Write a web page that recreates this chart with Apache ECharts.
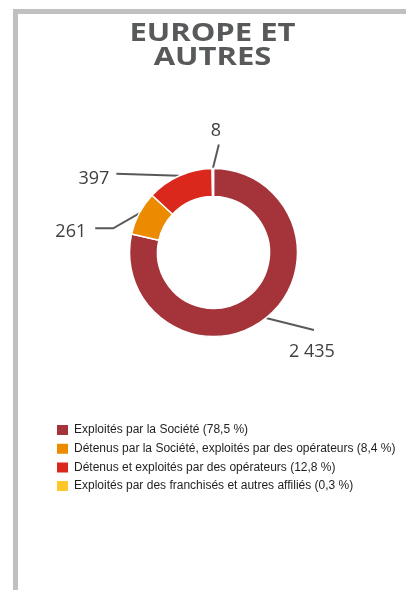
<!DOCTYPE html>
<html>
<head>
<meta charset="utf-8">
<script src="https://cdn.jsdelivr.net/npm/echarts@6/dist/echarts.min.js"></script>
<style>
  html, body { margin: 0; padding: 0; background: #fff; }
  #frame {
    position: absolute; left: 13px; top: 9px; right: 0; bottom: 0;
    border-top: 5px solid #c0c0c0; border-left: 5px solid #c0c0c0;
  }
  #main { position: absolute; left: 0; top: 0; width: 406px; height: 590px; }
</style>
</head>
<body>
<div id="frame"></div>
<div id="main"></div>
<script>
// données
const categories = [
  'Exploités par la Société (78,5 %)',
  'Détenus par la Société, exploités par des opérateurs (8,4 %)',
  'Détenus et exploités par des opérateurs (12,8 %)',
  'Exploités par des franchisés et autres affiliés (0,3 %)'
];
const values = [2435, 261, 397, 8];
const colors = ['#a4343a', '#ed8b00', '#da291c', '#ffc72c'];

// format "2 435"
const fmt = v => String(v).replace(/\B(?=(\d{3})+(?!\d))/g, ' ');

// tracé des lignes de rappel, relatif au point d'ancrage du secteur
const leaders = [
  { line: [[48, 12]], text: [46, 34], align: 'center' },
  { line: [[-26, 15], [-44, 15]], text: [-53, 19], align: 'right' },
  { line: [[-63, -2]], text: [-70, 3], align: 'right' },
  { line: [[6, -24]], text: [3, -38], align: 'center' }
];

const chart = echarts.init(document.getElementById('main'));
chart.setOption({
  animation: false,
  // titre étiré horizontalement comme dans l'original
  graphic: [
    {
      type: 'text',
      x: 212.5,
      y: 22,
      scaleX: 1.24,
      style: {
        text: 'EUROPE ET\nAUTRES',
        font: 'bold 25px "Open Sans"',
        lineHeight: 24,
        align: 'center',
        verticalAlign: 'top',
        fill: '#58595b'
      }
    }
  ],
  legend: {
    orient: 'vertical',
    left: 55,
    top: 423,
    padding: 0,
    itemWidth: 13,
    itemHeight: 12,
    itemGap: 4.7,
    icon: 'rect',
    data: categories,
    textStyle: {
      fontFamily: 'Liberation Sans',
      fontSize: 12,
      lineHeight: 14,
      color: '#1f1f1f'
    }
  },
  series: [
    {
      type: 'pie',
      center: [213.5, 252.5],
      radius: [56, 84],
      startAngle: 90,
      clockwise: true,
      avoidLabelOverlap: false,
      itemStyle: { borderColor: '#fff', borderWidth: 1.5 },
      label: {
        show: true,
        position: 'outside',
        formatter: p => fmt(p.value),
        fontFamily: 'Open Sans',
        fontSize: 18,
        color: '#3f3f3f'
      },
      labelLine: {
        show: true,
        length: 10,
        length2: 10,
        lineStyle: { color: '#595959', width: 2 }
      },
      labelLayout: params => {
        const cfg = leaders[params.dataIndex];
        const p0 = params.labelLinePoints[0];
        const pts = [p0].concat(cfg.line.map(d => [p0[0] + d[0], p0[1] + d[1]]));
        return {
          x: p0[0] + cfg.text[0],
          y: p0[1] + cfg.text[1],
          align: cfg.align,
          verticalAlign: 'middle',
          labelLinePoints: pts
        };
      },
      emphasis: { disabled: true },
      data: categories.map((name, i) => ({
        name: name,
        value: values[i],
        itemStyle: { color: colors[i] }
      }))
    }
  ]
});
</script>
</body>
</html>
